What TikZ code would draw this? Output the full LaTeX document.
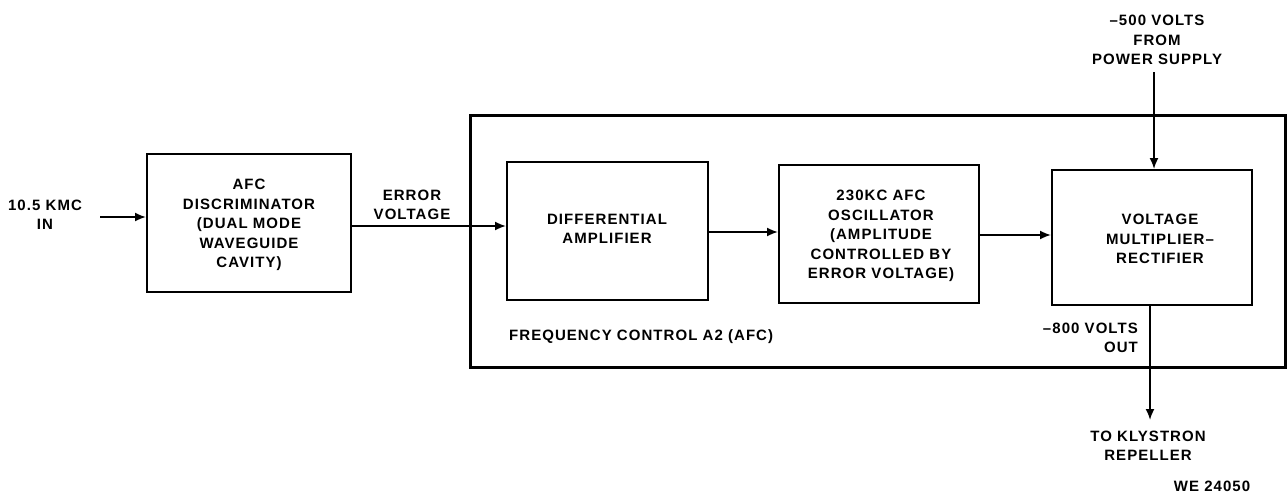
\documentclass[tikz,border=0pt]{standalone}
\usepackage{fontspec}
\setmainfont{Liberation Sans}
\newfontfamily\lblfont[LetterSpace=7]{Liberation Sans}
\usetikzlibrary{arrows.meta}
\begin{document}
\begin{tikzpicture}[x=1pt,y=-1pt,
  lbl/.style={font=\lblfont\bfseries\fontsize{15}{19.5}\selectfont, align=center, inner sep=0pt},
  blk/.style={draw, line width=2pt, inner sep=0pt},
  conn/.style={line width=1.8pt, -{Latex[length=11pt,width=9pt]}},
  wire/.style={line width=1.8pt}]
\useasboundingbox (0,0) rectangle (1287,495);
% outer frame
\node[draw, line width=3pt, minimum width=815pt, minimum height=252pt, inner sep=0pt] (frame) at (877.5,241.5) {};
% blocks
\node[blk, minimum width=204pt, minimum height=138pt] (afc) at (249,223) {};
\node[blk, minimum width=201pt, minimum height=138pt] (diff) at (607.5,231) {};
\node[blk, minimum width=200pt, minimum height=138pt] (osc) at (879,234) {};
\node[blk, minimum width=200pt, minimum height=135pt] (vm) at (1152,237.5) {};
% block texts
\node[lbl] (afct) at (249,225) {AFC\\DISCRIMINATOR\\(DUAL MODE\\WAVEGUIDE\\CAVITY)};
\node[lbl] (difft) at (607,229) {DIFFERENTIAL\\AMPLIFIER};
\node[lbl] (osct) at (881,236) {230KC AFC\\OSCILLATOR\\(AMPLITUDE\\CONTROLLED BY\\ERROR VOLTAGE)};
\node[lbl] (vmt) at (1160,239) {VOLTAGE\\MULTIPLIER–\\RECTIFIER};
% external labels
\node[lbl] (inl) at (45,215) {10.5 KMC\\IN};
\node[lbl] (errl) at (412,205) {ERROR\\VOLTAGE};
\node[lbl] (pwr) at (1157,40) {–500 VOLTS\\FROM\\POWER SUPPLY};
\node[lbl, align=right, anchor=east] (outl) at (1138,338) {–800 VOLTS\\OUT};
\node[lbl] (kly) at (1148,446) {TO KLYSTRON\\REPELLER};
\node[lbl] (we) at (1212,486) {WE 24050};
\node[lbl, anchor=west] (freq) at (509,337) {FREQUENCY CONTROL A2 (AFC)};
% connectors
\coordinate (inS) at (100,217);
\coordinate (pwrS) at (1154,72);
\coordinate (klyE) at (1150,420);
\draw[conn] (inS) -- (inS -| afc.west);
\draw[conn] (afc.east |- 0,226) -- (diff.west |- 0,226);
\draw[conn] (diff.east |- 0,232) -- (osc.west |- 0,232);
\draw[conn] (osc.east |- 0,235) -- (vm.west |- 0,235);
\draw[conn] (pwrS) -- (pwrS |- vm.north);
\draw[conn] (klyE |- vm.south) -- (klyE);
\end{tikzpicture}
\end{document}
